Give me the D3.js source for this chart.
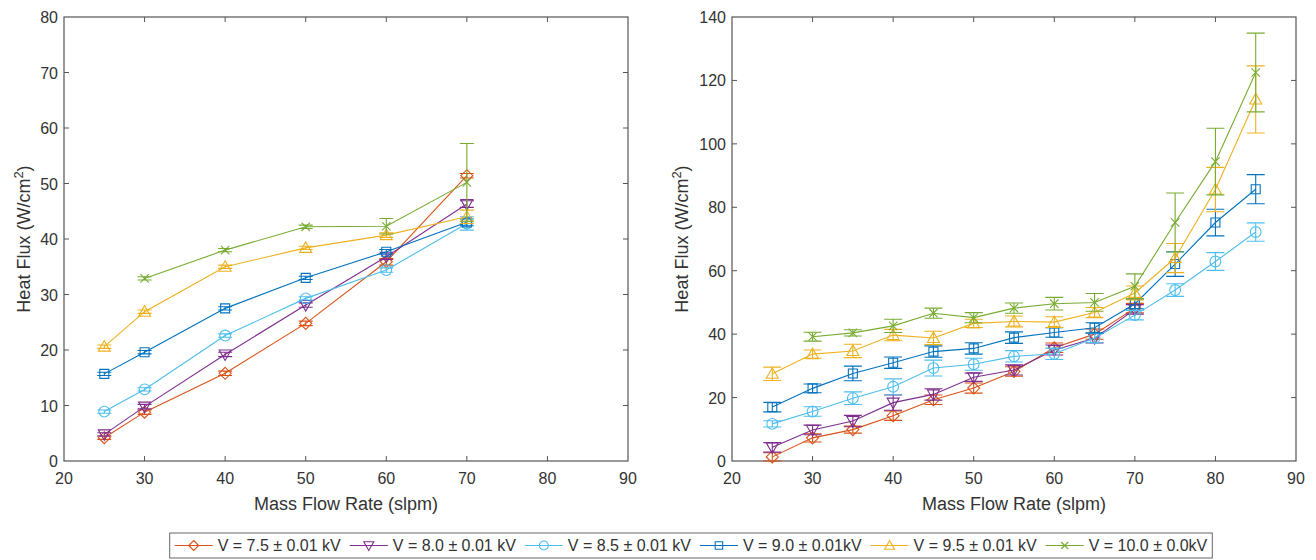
<!DOCTYPE html>
<html>
<head>
<meta charset="utf-8">
<script src="https://cdn.jsdelivr.net/npm/d3@7"></script>
<style>
  body { margin: 0; background: #fff; }
  svg { font-family: "Liberation Sans", Arial, sans-serif; }
</style>
</head>
<body>
<div id="chart"></div>
<script>
// Mass flow rates (slpm)
const leftX = [25, 30, 40, 50, 60, 70];
const rightX = [25, 30, 35, 40, 45, 50, 55, 60, 65, 70, 75, 80, 85];

const seriesNames = ["V = 7.5 \u00b1 0.01 kV", "V = 8.0 \u00b1 0.01 kV", "V = 8.5 \u00b1 0.01 kV",
  "V = 9.0 \u00b1 0.01kV", "V = 9.5 \u00b1 0.01 kV", "V = 10.0 \u00b1 0.0kV"];
const seriesColors = ["#D95319", "#7E2F8E", "#4DBEEE", "#0072BD", "#EDB120", "#77AC30"];
const seriesMarkers = ["diamond", "triangleDown", "circle", "square", "triangleUp", "cross"];

// Left panel: heat flux (W/cm2) and error
const left75 = [4.2, 8.8, 15.8, 24.8, 35.9, 51.4];
const left80 = [4.8, 9.8, 19.2, 28.1, 36.8, 46.3];
const left85 = [8.9, 12.9, 22.6, 29.3, 34.4, 42.8];
const left90 = [15.7, 19.6, 27.5, 33.0, 37.7, 43.0];
const left95 = [20.6, 26.9, 35.0, 38.4, 40.7, 44.0];
const left100 = [null, 32.9, 38.0, 42.2, 42.3, 50.2];
const leftErr75 = [0.3, 0.4, 0.4, 0.4, 0.6, 0.4];
const leftErr80 = [0.3, 0.4, 0.4, 0.4, 0.5, 0.6];
const leftErr85 = [0.3, 0.3, 0.3, 0.3, 0.4, 1.2];
const leftErr90 = [0.3, 0.3, 0.3, 0.3, 0.4, 0.6];
const leftErr95 = [0.3, 0.3, 0.3, 0.3, 0.4, 1.2];
const leftErr100 = [null, 0.3, 0.3, 0.3, 1.4, 7.0];

// Right panel: heat flux (W/cm2) and error
const right75 = [1.3, 7.3, 9.9, 14.3, 19.3, 23.0, 28.2, 35.7, 40.0, 48.2];
const right80 = [4.3, 9.8, 12.6, 18.4, 21.0, 26.4, 28.7, 35.0, 38.7, 47.8];
const right85 = [11.7, 15.6, 19.8, 23.4, 29.3, 30.5, 33.0, 33.8, 38.8, 46.0, 53.9, 62.9, 72.2];
const right90 = [17.0, 22.9, 27.6, 31.0, 34.5, 35.5, 38.9, 40.5, 42.0, 49.5, 62.1, 75.2, 85.7];
const right95 = [27.5, 33.7, 34.7, 39.7, 38.8, 43.4, 44.0, 43.8, 46.8, 53.0, 64.0, 85.6, 114.0];
const right100 = [null, 39.2, 40.4, 42.6, 46.6, 45.2, 48.2, 49.6, 50.0, 55.1, 75.2, 94.4, 122.5];
const rightErr75 = [1.3, 1.3, 1.1, 1.5, 1.5, 1.6, 1.5, 1.5, 1.6, 1.5];
const rightErr80 = [1.5, 1.5, 1.8, 2.4, 1.8, 1.3, 1.6, 1.6, 1.5, 1.5];
const rightErr85 = [1.0, 1.5, 2.0, 2.5, 2.5, 1.9, 1.8, 1.8, 1.5, 1.5, 2.0, 2.8, 2.9];
const rightErr90 = [1.5, 1.4, 2.3, 1.8, 1.8, 1.8, 1.8, 1.5, 1.6, 1.5, 3.9, 4.2, 4.6];
const rightErr95 = [2.1, 1.3, 2.1, 1.8, 2.1, 1.3, 1.7, 1.7, 1.6, 2.2, 4.6, 7.0, 10.6];
const rightErr100 = [null, 1.4, 1.0, 2.1, 1.6, 1.6, 1.6, 2.0, 2.8, 3.9, 9.3, 10.5, 12.4];

const xTicks = [20, 30, 40, 50, 60, 70, 80, 90];
const leftYTicks = [0, 10, 20, 30, 40, 50, 60, 70, 80];
const rightYTicks = [0, 20, 40, 60, 80, 100, 120, 140];

const axisColor = "#555";
const textColor = "#333";

const svg = d3.select("#chart").append("svg")
  .attr("width", 1316)
  .attr("height", 560);

// marker shapes, r = half size
function markerPath(type, r) {
  const p = d3.path();
  if (type === "diamond") {
    p.moveTo(0, -r); p.lineTo(r, 0); p.lineTo(0, r); p.lineTo(-r, 0); p.closePath();
  } else if (type === "triangleDown") {
    p.moveTo(-r, -r * 0.75); p.lineTo(r, -r * 0.75); p.lineTo(0, r); p.closePath();
  } else if (type === "triangleUp") {
    p.moveTo(-r, r * 0.75); p.lineTo(r, r * 0.75); p.lineTo(0, -r); p.closePath();
  } else if (type === "circle") {
    p.moveTo(r * 0.9, 0); p.arc(0, 0, r * 0.9, 0, 2 * Math.PI);
  } else if (type === "square") {
    p.rect(-r * 0.75, -r * 0.75, r * 1.5, r * 1.5);
  } else {
    const k = r * 0.7;
    p.moveTo(-k, -k); p.lineTo(k, k); p.moveTo(-k, k); p.lineTo(k, -k);
  }
  return p.toString();
}

function drawPanel(opts) {
  const g = svg.append("g");
  const x = d3.scaleLinear().domain([20, 90]).range([opts.x0, opts.x1]);
  const y = d3.scaleLinear().domain(opts.yDomain).range([461, 17]);

  // box
  g.append("rect")
    .attr("x", opts.x0).attr("y", 17)
    .attr("width", opts.x1 - opts.x0).attr("height", 444)
    .attr("fill", "none").attr("stroke", axisColor).attr("stroke-width", 1.2);

  // ticks (inward, all four sides)
  const tl = 5;
  g.selectAll(".xt").data(xTicks.slice(1, -1)).join("path")
    .attr("d", d => `M${x(d)},461v${-tl}M${x(d)},17v${tl}`)
    .attr("stroke", axisColor);
  g.selectAll(".yt").data(opts.yTicks.slice(1, -1)).join("path")
    .attr("d", d => `M${opts.x0},${y(d)}h${tl}M${opts.x1},${y(d)}h${-tl}`)
    .attr("stroke", axisColor);

  // tick labels
  g.selectAll(".xl").data(xTicks).join("text")
    .attr("x", d => x(d)).attr("y", 484)
    .attr("text-anchor", "middle")
    .style("font-size", "16px").style("fill", textColor)
    .text(d => d);
  g.selectAll(".yl").data(opts.yTicks).join("text")
    .attr("x", opts.x0 - 6).attr("y", d => y(d) + 6)
    .attr("text-anchor", "end")
    .style("font-size", "16px").style("fill", textColor)
    .text(d => d);

  // axis labels
  g.append("text")
    .attr("x", (opts.x0 + opts.x1) / 2).attr("y", 510)
    .attr("text-anchor", "middle")
    .style("font-size", "18px").style("fill", textColor)
    .text("Mass Flow Rate (slpm)");
  const yl = g.append("text")
    .attr("transform", `translate(${opts.labelX},239) rotate(-90)`)
    .attr("text-anchor", "middle")
    .style("font-size", "18px").style("fill", textColor);
  yl.append("tspan").text("Heat Flux (W/cm");
  yl.append("tspan").attr("dy", -7).style("font-size", "13px").text("2");
  yl.append("tspan").attr("dy", 7).text(")");

  // series
  opts.series.forEach((vals, i) => {
    const pts = vals.map((v, j) => ({ x: opts.xs[j], v: v, e: opts.errs[i][j] }))
      .filter(d => d.v !== null);
    const color = seriesColors[i];
    const sg = g.append("g");

    sg.append("path")
      .datum(pts)
      .attr("fill", "none").attr("stroke", color).attr("stroke-width", 1.1)
      .attr("d", d3.line().x(d => x(d.x)).y(d => y(d.v)));

    // error bars
    const cw = opts.cap / 2;
    sg.selectAll(".err").data(pts).join("path")
      .attr("fill", "none").attr("stroke", color).attr("stroke-width", 1.1)
      .attr("d", d => {
        const cx = x(d.x), t = y(d.v + d.e), b = y(d.v - d.e);
        return `M${cx},${t}V${b}M${cx - cw},${t}H${cx + cw}M${cx - cw},${b}H${cx + cw}`;
      });

    sg.selectAll(".mk").data(pts).join("path")
      .attr("transform", d => `translate(${x(d.x)},${y(d.v)})`)
      .attr("d", markerPath(seriesMarkers[i], 6))
      .attr("fill", "none").attr("stroke", color).attr("stroke-width", 1.1);
  });
}

drawPanel({
  x0: 64, x1: 628, yDomain: [0, 80], yTicks: leftYTicks, labelX: 30, cap: 14,
  xs: leftX,
  series: [left75, left80, left85, left90, left95, left100],
  errs: [leftErr75, leftErr80, leftErr85, leftErr90, leftErr95, leftErr100]
});

drawPanel({
  x0: 732, x1: 1296, yDomain: [0, 140], yTicks: rightYTicks, labelX: 688, cap: 18,
  xs: rightX,
  series: [right75, right80, right85, right90, right95, right100],
  errs: [rightErr75, rightErr80, rightErr85, rightErr90, rightErr95, rightErr100]
});

// Legend
const legend = svg.append("g");
const box = legend.append("rect")
  .attr("fill", "#fff").attr("stroke", "#666").attr("stroke-width", 1);
const lineLen = 38, gapAfterLine = 5, gapEntry = 9;
let cursor = 0;
const items = legend.append("g");
seriesNames.forEach((name, i) => {
  const it = items.append("g").attr("transform", `translate(${cursor},0)`);
  it.append("line").attr("x1", 0).attr("x2", lineLen).attr("y1", 0).attr("y2", 0)
    .attr("stroke", seriesColors[i]).attr("stroke-width", 1.1);
  it.append("path").attr("transform", `translate(${lineLen / 2},0)`)
    .attr("d", markerPath(seriesMarkers[i], 5))
    .attr("fill", "none").attr("stroke", seriesColors[i]).attr("stroke-width", 1.1);
  const t = it.append("text").attr("x", lineLen + gapAfterLine).attr("y", 5.5)
    .style("font-size", "16px").style("fill", textColor).text(name);
  cursor += lineLen + gapAfterLine + t.node().getComputedTextLength() + gapEntry;
});
const totalW = cursor - gapEntry;
const lx = 691 - totalW / 2;
items.attr("transform", `translate(${lx},545.5)`);
box.attr("x", lx - 5).attr("y", 533).attr("width", totalW + 10).attr("height", 25);
</script>
</body>
</html>
